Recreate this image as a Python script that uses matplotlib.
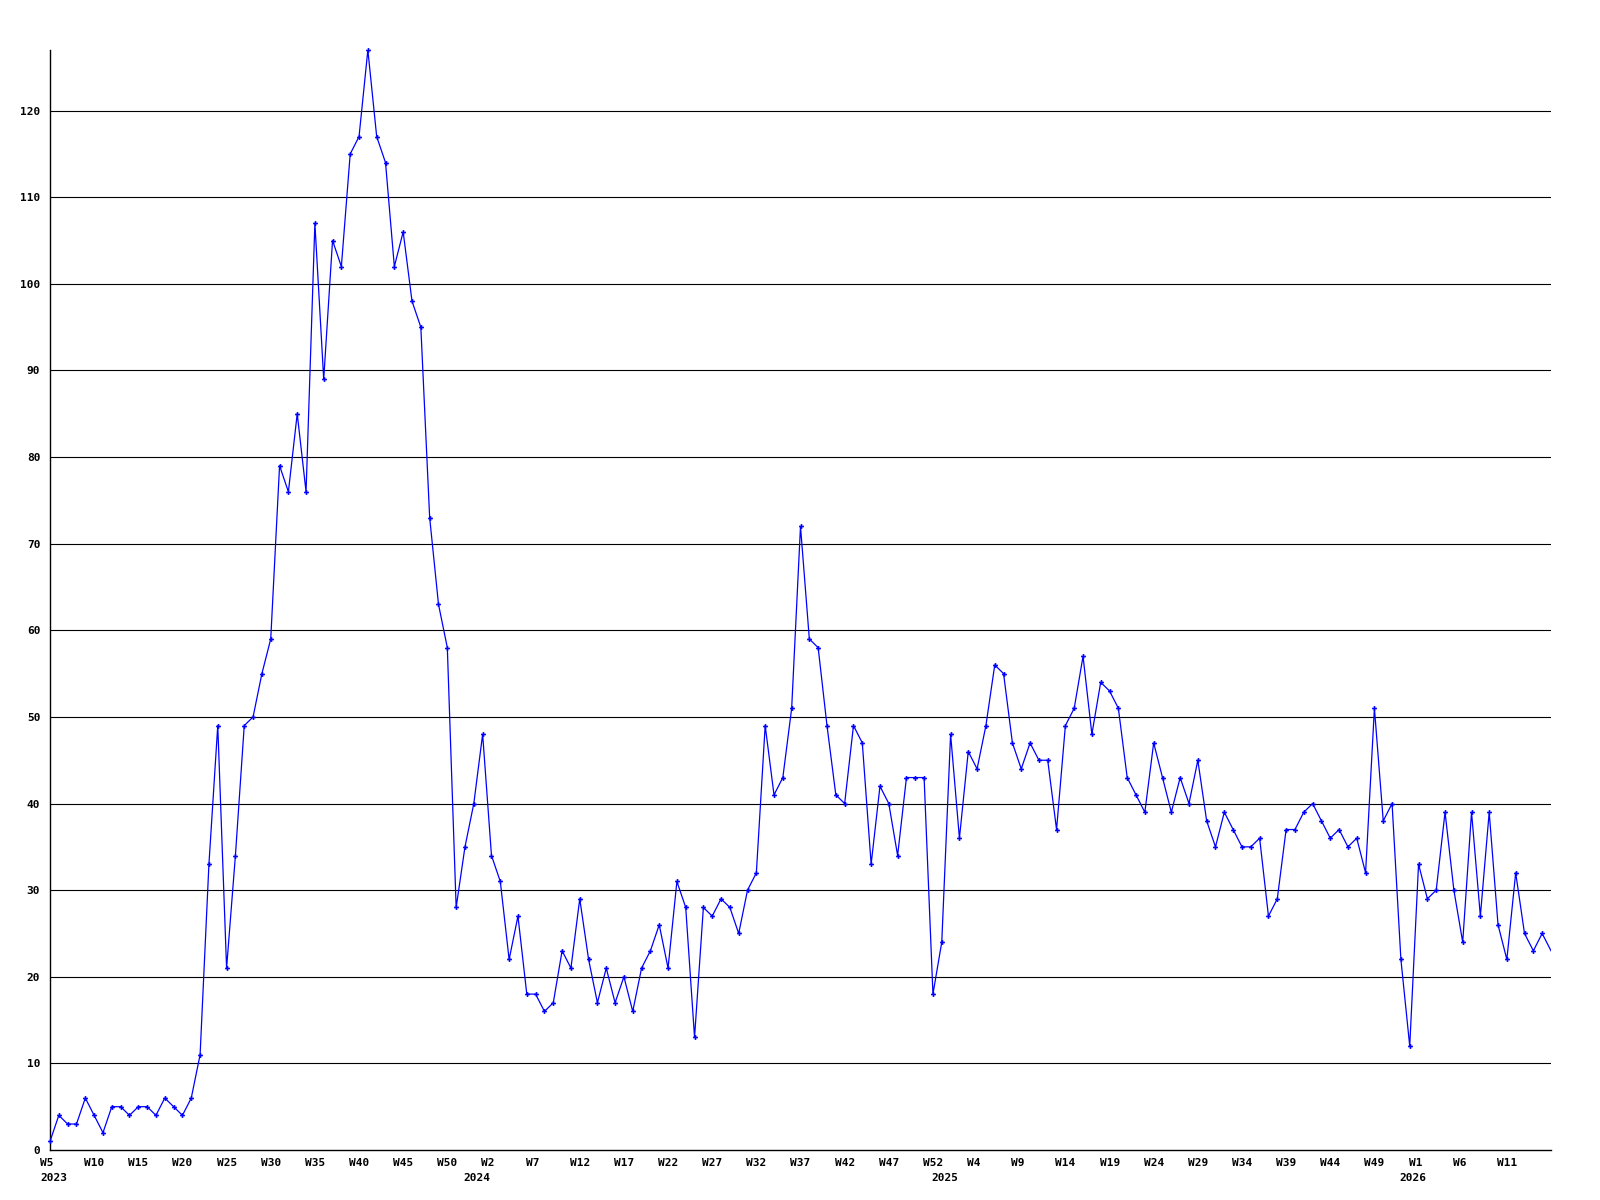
import numpy as np
import matplotlib
matplotlib.use("Agg")
import matplotlib.pyplot as plt
import matplotlib.transforms as mtransforms

#
#   data (one value per week, W5 2023 onwards)
#
weekly_counts = [
    1, 4, 3, 3, 6, 4, 2, 5, 5, 4, 5, 5, 4, 6, 5, 4, 6,
    11, 33, 49, 21, 34, 49, 50, 55, 59, 79, 76, 85, 76,
    107, 89, 105, 102, 115, 117, 127, 117, 114, 102, 106, 98, 95, 73, 63, 58,
    28, 35, 40, 48, 34, 31, 22, 27, 18, 18, 16, 17, 23, 21, 29, 22, 17, 21, 17,
    20, 16, 21, 23, 26, 21, 31, 28, 13, 28, 27, 29,
    28, 25, 30, 32, 49, 41, 43, 51, 72, 59, 58, 49, 41, 40, 49, 47, 33, 42, 40,
    34, 43, 43, 43, 18, 24, 48, 36,
    46, 44, 49, 56, 55, 47, 44, 47, 45, 45, 37, 49, 51, 57, 48, 54, 53, 51, 43,
    41, 39, 47, 43, 39, 43, 40, 45, 38, 35, 39,
    37, 35, 35, 36, 27, 29, 37, 37, 39, 40, 38, 36, 37, 35, 36, 32, 51, 38, 40,
    22, 12, 33, 29, 30, 39, 30, 24, 39, 27, 39, 26, 22, 32, 25, 23, 25, 23,
]

week_labels = [
    "W5", "W10", "W15", "W20", "W25", "W30", "W35", "W40", "W45", "W50",
    "W2", "W7", "W12", "W17", "W22", "W27", "W32", "W37", "W42", "W47", "W52",
    "W4", "W9", "W14", "W19", "W24", "W29", "W34", "W39", "W44", "W49",
    "W1", "W6", "W11",
]
year_labels = ["2023", "2024", "2025", "2026"]
year_pos = [0, 48, 101, 154]

y_ticks = list(range(0, 130, 10))

#
#   plotting
#
font = {"family": "DejaVu Sans Mono", "weight": "bold", "size": 8}

fig = plt.figure(figsize=(16, 12), dpi=100)
ax = fig.add_axes([50 / 1600, 50 / 1200, 1501 / 1600, 1100 / 1200])

x = np.arange(len(weekly_counts))
ax.plot(x, weekly_counts, color="#0000ff", linewidth=0.9, zorder=3)
# markers left unclipped so the peak shows whole; the last point sits on the edge
ax.plot(x[:-1], weekly_counts[:-1], linestyle="none", color="#0000ff",
        marker="P", markersize=3.5, markeredgewidth=0, zorder=4, clip_on=False)

ax.set_xlim(0, len(weekly_counts) - 1)
ax.set_ylim(0, 127)

for v in y_ticks[1:]:
    ax.axhline(v, color="black", linewidth=0.8, zorder=1)

for side in ["top", "right"]:
    ax.spines[side].set_visible(False)
for side in ["left", "bottom"]:
    ax.spines[side].set_linewidth(1.0)
    ax.spines[side].set_color("black")

ax.set_yticks(y_ticks)
ax.set_yticklabels([str(v) for v in y_ticks], fontdict=font)
ax.tick_params(axis="y", length=0, pad=7)

ax.set_xticks(list(range(0, 5 * len(week_labels), 5)))
ax.set_xticklabels(week_labels, fontdict=font, ha="left")
ax.tick_params(axis="x", length=0, pad=6)
shift = mtransforms.ScaledTranslation(-10 / 100, 0, fig.dpi_scale_trans)
for lbl in ax.get_xticklabels():
    lbl.set_transform(lbl.get_transform() + shift)

# year line under the week labels
trans = mtransforms.blended_transform_factory(ax.transData, ax.transAxes)
for pos, yr in zip(year_pos, year_labels):
    t = ax.text(pos, -28 / 1100, yr, transform=trans, ha="left", va="center",
                fontdict=font)
    t.set_transform(t.get_transform() + shift)

fig.savefig("out.png", dpi=100, facecolor="white")
